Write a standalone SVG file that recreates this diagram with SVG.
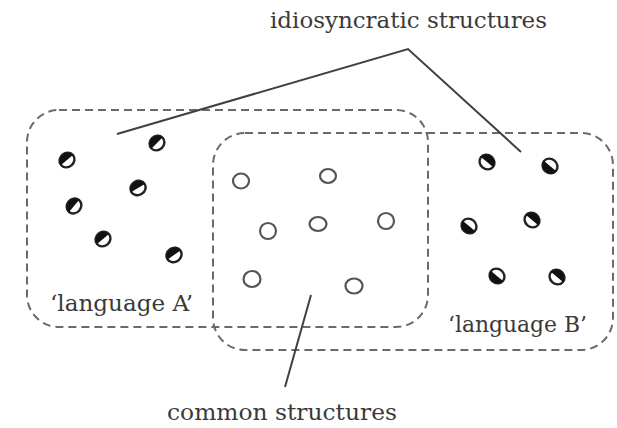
<svg xmlns="http://www.w3.org/2000/svg" width="617" height="428" viewBox="0 0 617 428">
  <defs>
    <style>
      .region { fill: none; stroke: #6a6a6a; stroke-width: 2; stroke-dasharray: 8 5; }
      .lead { fill: none; stroke: #404040; stroke-width: 2; }
      .open { fill: #fff; stroke: #555; stroke-width: 2.2; }
      .ring { fill: #fff; stroke: #222; stroke-width: 2.4; }
      .half { fill: #111; }
      .label { font-family: "DejaVu Serif", "Liberation Serif", serif; font-size: 22px; fill: #3a3a3a; }
    </style>
    <!-- half-filled structure marker: ring with one filled half -->
    <g id="mixed">
      <ellipse class="ring" cx="0" cy="0" rx="7.8" ry="7"/>
      <path class="half" d="M -7.8 0 A 7.8 7 0 0 1 7.8 0 Z"/>
    </g>
  </defs>

  <rect width="617" height="428" fill="#fff"/>

  <!-- language regions -->
  <g id="language-a-region">
    <rect class="region" x="27" y="110" width="401" height="217" rx="32" ry="32"/>
  </g>
  <g id="language-b-region">
    <rect class="region" x="213" y="133" width="400" height="217" rx="32" ry="32"/>
  </g>

  <!-- connectors from the labels -->
  <g id="connectors">
    <polyline class="lead" points="117,134 408,49 521,152"/>
    <line class="lead" x1="285" y1="387" x2="311" y2="295"/>
  </g>

  <!-- structures found only in language A -->
  <g id="idiosyncratic-a">
    <use href="#mixed" transform="translate(67,160) rotate(-40)"/>
    <use href="#mixed" transform="translate(157,143) rotate(-45)"/>
    <use href="#mixed" transform="translate(138,188) rotate(-30)"/>
    <use href="#mixed" transform="translate(74,206) rotate(-50)"/>
    <use href="#mixed" transform="translate(103,239) rotate(-40)"/>
    <use href="#mixed" transform="translate(174,255) rotate(-35)"/>
  </g>

  <!-- structures found only in language B -->
  <g id="idiosyncratic-b">
    <use href="#mixed" transform="translate(487,162) rotate(40)"/>
    <use href="#mixed" transform="translate(550,166) rotate(220)"/>
    <use href="#mixed" transform="translate(469,226) rotate(220)"/>
    <use href="#mixed" transform="translate(532,220) rotate(40)"/>
    <use href="#mixed" transform="translate(497,276) rotate(220)"/>
    <use href="#mixed" transform="translate(557,277) rotate(40)"/>
  </g>

  <!-- structures shared by both languages -->
  <g id="common">
    <ellipse class="open" cx="241" cy="181" rx="8" ry="7.5"/>
    <ellipse class="open" cx="328" cy="176" rx="8" ry="7"/>
    <ellipse class="open" cx="268" cy="231" rx="8" ry="8"/>
    <ellipse class="open" cx="318" cy="224" rx="8.5" ry="7"/>
    <ellipse class="open" cx="386" cy="221" rx="8" ry="8"/>
    <ellipse class="open" cx="252" cy="279" rx="8.5" ry="8"/>
    <ellipse class="open" cx="354" cy="286" rx="8.5" ry="7.5"/>
  </g>

  <!-- labels -->
  <g id="label-idiosyncratic">
    <text class="label" x="270" y="28" textLength="277" lengthAdjust="spacingAndGlyphs">idiosyncratic structures</text>
  </g>
  <g id="label-common">
    <text class="label" x="167" y="420" textLength="230" lengthAdjust="spacingAndGlyphs">common structures</text>
  </g>
  <g id="label-language-a">
    <text class="label" x="50" y="311" textLength="143" lengthAdjust="spacingAndGlyphs">‘language A’</text>
  </g>
  <g id="label-language-b">
    <text class="label" x="448" y="332" textLength="139" lengthAdjust="spacingAndGlyphs">‘language B’</text>
  </g>
</svg>
